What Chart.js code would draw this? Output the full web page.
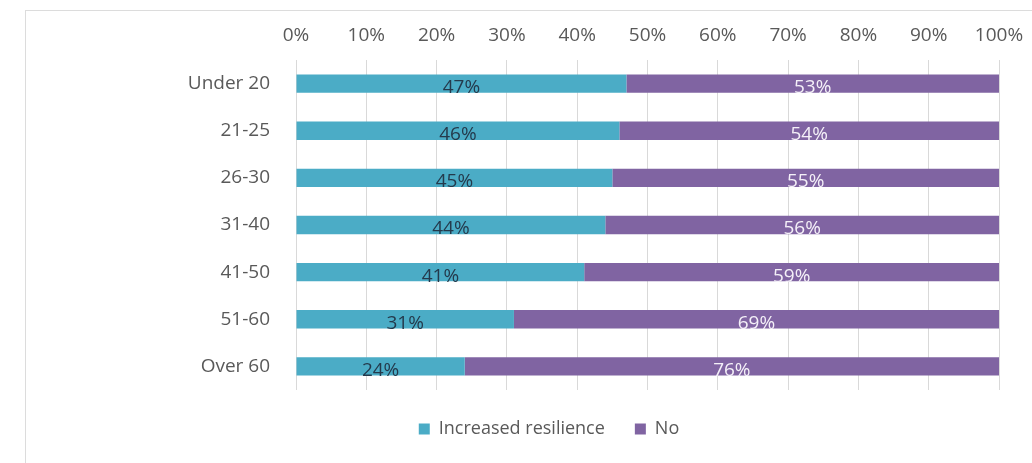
<!DOCTYPE html>
<html>
<head>
<meta charset="utf-8">
<script src="https://cdn.jsdelivr.net/npm/chart.js@4.4.1/dist/chart.umd.min.js"></script>
<style>
  html, body { margin: 0; padding: 0; background: #fff; overflow: hidden; }
  #frame { position: absolute; left: 25px; top: 10px; width: 1100px; height: 600px; border: 1px solid #dcdcdc; }
  #chart { position: absolute; left: 0; top: 0; }
</style>
</head>
<body>
<div id="frame"></div>
<canvas id="chart" width="1032" height="463"></canvas>
<script>
const ageGroups = ['Under 20', '21-25', '26-30', '31-40', '41-50', '51-60', 'Over 60'];
const resilienceYes = [47, 46, 45, 44, 41, 31, 24];
const resilienceNo = [53, 54, 55, 56, 59, 69, 76];
const percentTicks = [0, 10, 20, 30, 40, 50, 60, 70, 80, 90, 100];

const FONT = '"Open Sans", Lato, sans-serif';

// writes each segment's value in the middle of its bar
const barLabels = {
    id: 'barLabels',
    afterDatasetsDraw(chart) {
        const ctx = chart.ctx;
        ctx.save();
        ctx.font = '19px ' + FONT;
        ctx.textAlign = 'center';
        ctx.textBaseline = 'middle';
        chart.data.datasets.forEach((ds, i) => {
            const meta = chart.getDatasetMeta(i);
            meta.data.forEach((bar, j) => {
                const cx = (bar.x + bar.base) / 2;
                ctx.fillStyle = ds.labelColor;
                ctx.fillText(ds.data[j] + '%', cx, bar.y + 4);
            });
        });
        ctx.restore();
    }
};

new Chart(document.getElementById('chart').getContext('2d'), {
    type: 'bar',
    data: {
        labels: ageGroups,
        datasets: [
            { label: 'Increased resilience', data: resilienceYes, backgroundColor: '#4bacc6', labelColor: '#243a4c', barPercentage: 0.78, categoryPercentage: 0.5 },
            { label: 'No', data: resilienceNo, backgroundColor: '#8064a2', labelColor: '#f4f0f8', barPercentage: 0.78, categoryPercentage: 0.5 }
        ]
    },
    options: {
        indexAxis: 'y',
        responsive: false,
        animation: false,
        layout: { padding: { left: 99, right: 33, top: 0, bottom: 15 } },
        scales: {
            x: {
                position: 'top',
                stacked: true,
                min: 0,
                max: 100,
                afterBuildTicks: (scale) => { scale.ticks = percentTicks.map(v => ({ value: v })); },
                afterFit: (scale) => { scale.height = 60; scale.paddingLeft = 0; scale.paddingRight = 0; },
                grid: { color: '#d9d9d9', drawTicks: false },
                border: { display: false },
                ticks: { color: '#595959', font: { family: FONT, size: 19 }, padding: 13, callback: v => v + '%' }
            },
            y: {
                stacked: true,
                afterFit: (scale) => { scale.width = 197; },
                grid: { display: false },
                border: { display: false },
                ticks: { color: '#595959', font: { family: FONT, size: 19 }, padding: 18 }
            }
        },
        plugins: {
            legend: {
                position: 'bottom',
                labels: { color: '#595959', font: { family: FONT, size: 18 }, boxWidth: 11, boxHeight: 11, padding: 30 }
            },
            tooltip: { enabled: false }
        }
    },
    plugins: [barLabels]
});
</script>
</body>
</html>
